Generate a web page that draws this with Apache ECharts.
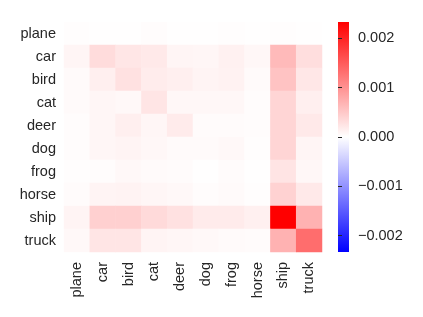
<!DOCTYPE html>
<html><head><meta charset="utf-8">
<script src="https://cdn.jsdelivr.net/npm/echarts@6/dist/echarts.min.js"></script>
<style>html,body{margin:0;padding:0;background:#fff}#c{width:423px;height:317px}</style>
</head><body><div id="c"></div>
<script>
const categories = ['plane','car','bird','cat','deer','dog','frog','horse','ship','truck'];
// rows (true class) x columns
const rowPlane = [0.00002,0.00001,0.00001,0.00003,0.00001,0.00001,0.00002,0.00001,0.00002,0.00001];
const rowCar   = [0.00009,0.00032,0.00023,0.00020,0.00009,0.00008,0.00013,0.00007,0.00063,0.00030];
const rowBird  = [0.00005,0.00015,0.00027,0.00017,0.00015,0.00010,0.00012,0.00005,0.00055,0.00022];
const rowCat   = [0.00005,0.00008,0.00006,0.00024,0.00007,0.00007,0.00007,0.00003,0.00038,0.00015];
const rowDeer  = [0.00003,0.00008,0.00015,0.00008,0.00018,0.00004,0.00004,0.00003,0.00038,0.00020];
const rowDog   = [0.00003,0.00008,0.00010,0.00007,0.00005,0.00005,0.00006,0.00002,0.00038,0.00009];
const rowFrog  = [0.00002,0.00003,0.00006,0.00005,0.00004,0.00001,0.00004,0.00001,0.00025,0.00007];
const rowHorse = [0.00004,0.00010,0.00011,0.00008,0.00006,0.00003,0.00005,0.00002,0.00041,0.00020];
const rowShip  = [0.00010,0.00043,0.00043,0.00034,0.00027,0.00018,0.00018,0.00014,0.00233,0.00070];
const rowTruck = [0.00006,0.00024,0.00024,0.00010,0.00008,0.00006,0.00005,0.00004,0.00070,0.00133];
const colorTicks = [-0.002,-0.001,0,0.001,0.002];
const vmin = -0.00233, vmax = 0.00233;

const rows = [rowPlane,rowCar,rowBird,rowCat,rowDeer,rowDog,rowFrog,rowHorse,rowShip,rowTruck];
const data = [];
rows.forEach((r,y)=>r.forEach((v,x)=>data.push([x,y,v])));

const txt = '#262626';
const font = 'Liberation Sans, Arial, sans-serif';
const fs = 14.5;
const chart = echarts.init(document.getElementById('c'), null, {renderer:'canvas'});
chart.setOption({
  animation:false,
  backgroundColor:'#ffffff',
  grid:[
    {left:64, top:22, width:258, height:230},
    {left:338, top:22, width:11, height:230, show:true, borderWidth:0,
     backgroundColor:new echarts.graphic.LinearGradient(0,0,0,1,[
       {offset:0,color:'#ff0000'},{offset:0.5,color:'#ffffff'},{offset:1,color:'#0000ff'}])}
  ],
  xAxis:[
    {type:'category', data:categories, gridIndex:0,
     axisLine:{show:false}, axisTick:{show:false}, splitArea:{show:false},
     axisLabel:{rotate:90, margin:10, color:txt, fontSize:fs, fontFamily:font}},
    {type:'value', gridIndex:1, show:false, min:0, max:1}
  ],
  yAxis:[
    {type:'category', data:categories, inverse:true, gridIndex:0,
     axisLine:{show:false}, axisTick:{show:false}, splitArea:{show:false},
     axisLabel:{margin:8, color:txt, fontSize:fs, fontFamily:font}},
    {type:'value', gridIndex:1, position:'right', min:vmin, max:vmax,
     axisLine:{show:false}, splitLine:{show:false},
     axisTick:{show:true, length:4, lineStyle:{color:txt}, customValues:colorTicks},
     axisLabel:{margin:9, color:txt, fontSize:fs, fontFamily:font, customValues:colorTicks,
       formatter:v=>{const s=Math.abs(v).toFixed(3); return v< -1e-9 ? '\u2212'+s : s;}}}
  ],
  visualMap:{
    type:'continuous', min:vmin, max:vmax, seriesIndex:0, show:false,
    inRange:{color:['#0000ff','#ffffff','#ff0000']}
  },
  series:[
    {type:'heatmap', xAxisIndex:0, yAxisIndex:0, data:data,
     itemStyle:{borderWidth:0}, emphasis:{disabled:true}, progressive:0},
    {type:'line', xAxisIndex:1, yAxisIndex:1, data:[], silent:true}
  ]
});
</script></body></html>
